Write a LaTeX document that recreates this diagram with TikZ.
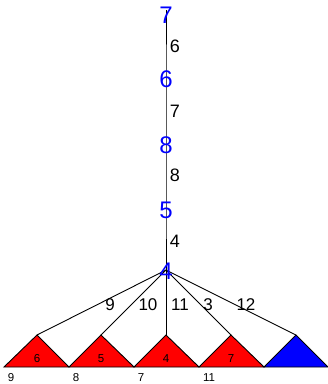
\documentclass[tikz,border=0pt]{standalone}
\usepackage{fontspec}
\setmainfont{Liberation Sans}
\usetikzlibrary{positioning}

\begin{document}
\begin{tikzpicture}[x=1pt,y=-1pt, line width=0.9pt, every node/.style={inner sep=0pt},
    vert/.style={text=blue, font=\fontsize{24}{24}\selectfont},
    elab/.style={font=\fontsize{18}{18}\selectfont},
    flab/.style={font=\fontsize{17}{17}\selectfont},
    small/.style={font=\fontsize{11.5}{11.5}\selectfont},
    redtri/.style={draw=black, fill=red},
    bluetri/.style={draw=black, fill=blue}]
    \useasboundingbox (0,0) rectangle (328,384);
    % triangles
    \draw[redtri] (4,367) -- (37,335) -- (69,367) -- cycle;
    \draw[redtri] (69,367) -- (101,335) -- (134,367) -- cycle;
    \draw[redtri] (134,367) -- (166,335) -- (199,367) -- cycle;
    \draw[redtri] (199,367) -- (231,335) -- (264,367) -- cycle;
    \draw[bluetri] (264,367) -- (296,335) -- (328,367) -- cycle;
    \coordinate (t1) at (37,335);
    \coordinate (t2) at (101,335);
    \coordinate (t3) at (166,335);
    \coordinate (t4) at (231,335);
    \coordinate (t5) at (296,335);
    % chain
    \coordinate (v7) at (166,10);
    \coordinate (v6) at (166,78);
    \coordinate (v8) at (166,144);
    \coordinate (v5) at (166,209);
    \coordinate (v4) at (166,270);
    \draw (v7) -- (v6) -- (v8) -- (v5) -- (v4);
    \draw (v4) -- (t1);
    \draw (v4) -- (t2);
    \draw (v4) -- (t3);
    \draw (v4) -- (t4);
    \draw (v4) -- (t5);
    \node[vert] (n7) at (166,15) {7};
    \node[vert] (n6) at (166,79) {6};
    \node[vert] (n8) at (166,145) {8};
    \node[vert] (n5) at (166,210) {5};
    \node[vert] (n4) at (166,271) {4};
    % edge labels
    \node[elab] at (175,46) {6};
    \node[elab] at (175,111) {7};
    \node[elab] at (175,175) {8};
    \node[elab] at (175,241) {4};
    \node[flab] at (110,305) {9};
    \node[flab] at (148,305) {10};
    \node[flab] at (180,305) {11};
    \node[flab] at (208,305) {3};
    \node[flab] at (246,305) {12};
    % leaf labels
    \node[small] at (37,359) {6};
    \node[small] at (101,359) {5};
    \node[small] at (166,359) {4};
    \node[small] at (231,359) {7};
    \node[small] at (11,378) {9};
    \node[small] at (76,378) {8};
    \node[small] at (141,378) {7};
    \node[small] at (209,378) {11};
\end{tikzpicture}
\end{document}
